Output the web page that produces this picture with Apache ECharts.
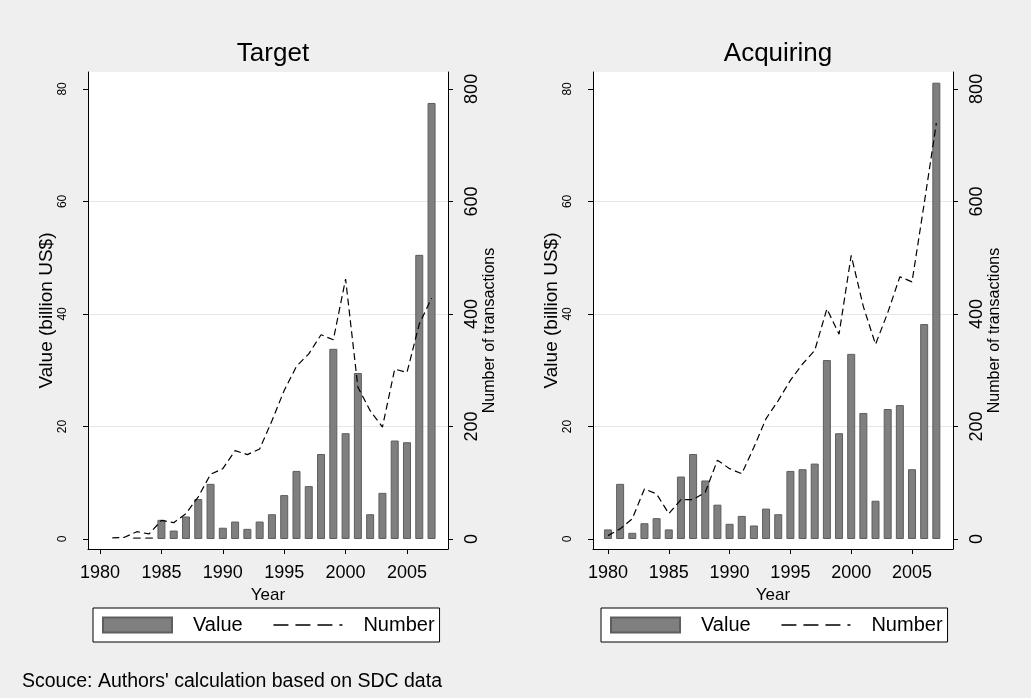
<!DOCTYPE html>
<html>
<head>
<meta charset="utf-8">
<script src="https://cdn.jsdelivr.net/npm/echarts@6/dist/echarts.min.js"></script>
<style>
html,body{margin:0;padding:0;background:#efefef;}
#c{width:1031px;height:698px;}
</style>
</head>
<body>
<div id="c"></div>
<script>
var years = [1980,1981,1982,1983,1984,1985,1986,1987,1988,1989,1990,1991,1992,1993,1994,1995,1996,1997,1998,1999,2000,2001,2002,2003,2004,2005,2006,2007];
var targetValue = [null,null,null,0.3,0.3,3.4,1.5,4.0,7.1,9.8,2.0,3.1,1.8,3.1,4.4,7.8,12.1,9.4,15.1,33.8,18.8,29.5,4.4,8.2,17.5,17.2,50.5,77.5];
var targetNumber = [null,2,3,13,9,33,29,45,75,115,125,157,150,160,210,264,307,329,363,354,462,270,228,199,302,296,382,428];
var acqValue = [1.7,9.8,1.1,2.8,3.7,1.7,11.1,15.1,10.4,6.1,2.7,4.1,2.4,5.4,4.4,12.1,12.4,13.4,31.8,18.8,32.9,22.4,6.8,23.1,23.8,12.4,38.2,81.1];
var acqNumber = [6,18,36,89,80,45,70,70,83,140,125,116,163,214,246,282,311,335,409,364,504,413,346,402,466,457,596,739];
var xTicks = [1980,1985,1990,1995,2000,2005];
var valueTicks = [0,20,40,60,80];
var numberTicks = [0,200,400,600,800];
var panelTitles = ['Target','Acquiring'];
var seriesNames = ['Value','Number'];
var xName = 'Year';
var leftName = 'Value (billion US$)';
var rightName = 'Number of transactions';
var sourceText = "Scouce: Authors' calculation based on SDC data";

function pairs(v){ var out=[]; for(var i=0;i<years.length;i++){ if(v[i]!==null) out.push([years[i], v[i]]); } return out; }
function plain(v){ return String(v); }

var FONT = 'Liberation Sans';
var chart = echarts.init(document.getElementById('c'), null, {renderer:'canvas'});

function xAxis(gi, mn, mx){
  return {type:'value', gridIndex:gi, min:mn, max:mx,
    name:xName, nameLocation:'middle', nameGap:25,
    nameTextStyle:{fontFamily:FONT,fontSize:17,color:'#000'},
    axisLine:{show:true,onZero:false,lineStyle:{color:'#000',width:1}},
    axisTick:{show:true,length:5,customValues:xTicks,lineStyle:{color:'#000'}},
    axisLabel:{customValues:xTicks,formatter:plain,margin:15,fontFamily:FONT,fontSize:18,color:'#000'},
    splitLine:{show:false}};
}
function yLeft(gi){
  return {type:'value', gridIndex:gi, position:'left', min:-1.78, max:83,
    name:leftName, nameLocation:'middle', nameGap:27, nameRotate:90,
    nameTextStyle:{fontFamily:FONT,fontSize:19,color:'#000'},
    axisLine:{show:true,lineStyle:{color:'#000',width:1}},
    axisTick:{show:true,length:5,customValues:valueTicks,lineStyle:{color:'#000'}},
    axisLabel:{customValues:valueTicks,formatter:plain,rotate:90,margin:19,fontFamily:FONT,fontSize:12,color:'#000'},
    splitLine:{show:true,showMinLine:false,showMaxLine:false,lineStyle:{color:'#e6e6e6',width:1}}};
}
function yRight(gi){
  return {type:'value', gridIndex:gi, position:'right', min:-17.8, max:830,
    name:rightName, nameLocation:'middle', nameGap:32, nameRotate:90,
    nameTextStyle:{fontFamily:FONT,fontSize:16,color:'#000',padding:[0,40,0,0]},
    axisLine:{show:true,lineStyle:{color:'#000',width:1}},
    axisTick:{show:true,length:5,customValues:numberTicks,lineStyle:{color:'#000'}},
    axisLabel:{customValues:numberTicks,formatter:plain,rotate:90,margin:15,fontFamily:FONT,fontSize:18,color:'#000'},
    splitLine:{show:false}};
}
function legend(left){
  return {left:left, top:608, orient:'horizontal',
    data:[{name:seriesNames[0], icon:'rect'},
          {name:seriesNames[1], itemStyle:{opacity:0}, lineStyle:{type:[15,7], width:1.5, color:'#000'}}],
    itemWidth:69, itemHeight:15, itemGap:30,
    backgroundColor:'#fff', borderColor:'#000', borderWidth:1, padding:[7,5,7,9],
    textStyle:{fontFamily:FONT,fontSize:20,color:'#000',padding:[0,0,0,16]},
    selectedMode:false};
}
function barSeries(gi, vals){
  return {name:seriesNames[0], type:'bar', xAxisIndex:gi, yAxisIndex:gi*2, data:pairs(vals),
    barWidth:8, itemStyle:{color:'#7f7f7f', borderColor:'#5e5e5e', borderWidth:1}, z:3, silent:true};
}
function lineSeries(gi, vals){
  return {name:seriesNames[1], type:'line', xAxisIndex:gi, yAxisIndex:gi*2+1, data:pairs(vals),
    symbol:'none', showSymbol:false, z:4, silent:true,
    lineStyle:{color:'#000', width:1.2, type:[7,4]}, itemStyle:{color:'#000'}};
}

var option = {
  backgroundColor:'#efefef',
  animation:false,
  title:[
    {text:panelTitles[0], left:268, top:36, textAlign:'center', textStyle:{fontFamily:FONT,fontSize:26,fontWeight:'normal',color:'#000'}},
    {text:panelTitles[1], left:773, top:36, textAlign:'center', textStyle:{fontFamily:FONT,fontSize:26,fontWeight:'normal',color:'#000'}},
    {text:sourceText, left:17, top:667, textStyle:{fontFamily:FONT,fontSize:19.5,fontWeight:'normal',color:'#000'}}
  ],
  grid:[
    {left:88, top:72, width:360, height:477, show:true, backgroundColor:'#fff', borderWidth:0},
    {left:593, top:72, width:360, height:477, show:true, backgroundColor:'#fff', borderWidth:0}
  ],
  legend:[legend(93), legend(601)],
  xAxis:[xAxis(0,1979.02,2008.34), xAxis(1,1978.77,2008.37)],
  yAxis:[yLeft(0), yRight(0), yLeft(1), yRight(1)],
  series:[barSeries(0,targetValue), lineSeries(0,targetNumber), barSeries(1,acqValue), lineSeries(1,acqNumber)]
};
chart.setOption(option);
</script>
</body>
</html>
